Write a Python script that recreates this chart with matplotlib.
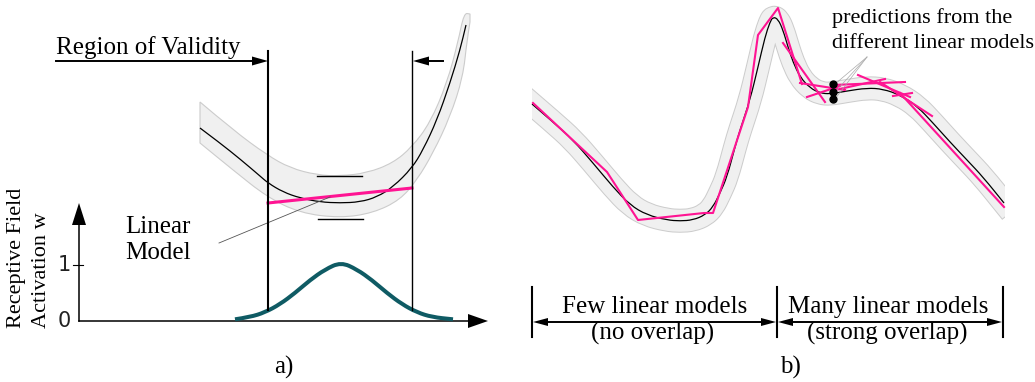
import matplotlib.pyplot as plt
from matplotlib.path import Path
from matplotlib.patches import PathPatch

# everything is laid out in pixel units of the 1035x382 picture (y grows downward)
W, H = 1035, 382
SERIF = ['Liberation Serif', 'DejaVu Serif']
PINK = '#ff1493'
TEAL = '#0f5b64'
BAND = '#f0f0f0'
BAND_EDGE = '#cccccc'

# ---- panel a) ----
curve_a_x = [200, 220, 240, 260, 268, 283, 300, 320, 340, 360, 377, 393, 412, 423, 437, 450, 460, 466]
curve_a_y = [128, 143, 159, 176, 183, 192, 198, 202, 203, 202, 197, 187, 168, 150, 120, 83, 50, 25]
band_a_upper = [(200, 102), (233, 130), (267, 155), (290, 168), (317, 175), (340, 176), (367, 173),
                (393, 163), (412, 147), (430, 123), (447, 83), (458, 42), (464, 13), (470, 14)]
band_a_lower = [(470, 22), (467, 40), (463, 77), (450, 117), (433, 153), (417, 180), (400, 200),
                (373, 213), (340, 218), (300, 213), (267, 197), (233, 170), (200, 143)]
linear_model_a = [(268, 203), (412, 188)]
validity_x = [268, 412]

# receptive field activation w
rf_x = [235, 250, 265, 280, 295, 310, 325, 341, 357, 372, 387, 402, 417, 432, 453]
rf_w = [0.03, 0.07, 0.155, 0.30, 0.50, 0.73, 0.92, 1.05, 0.92, 0.73, 0.50, 0.30, 0.155, 0.07, 0.03]
rf_ticks = [0, 1]

# ---- panel b) ----
curve_b_x = [532, 553, 573, 593, 613, 630, 647, 667, 680, 693, 705, 713, 720, 727, 735, 740, 750, 758,
             765, 770, 773, 778, 783, 788, 793, 800, 810, 820, 830, 847, 867, 883, 900, 917, 933, 950,
             967, 983, 1004]
curve_b_y = [104, 122, 140, 163, 187, 205, 215, 220, 221, 220, 215, 207, 193, 177, 147, 130, 100, 67,
             37, 22, 17, 19, 30, 47, 62, 77, 88, 93, 94, 91, 88, 89, 95, 106, 123, 142,
             160, 177, 203]
few_models = [(533, 103), (607, 172), (638, 220), (704, 213), (713, 213), (748, 107), (758, 35),
              (778, 8), (802, 84)]
many_models = [[(783, 43), (825, 102)], [(800, 83), (845, 90)], [(807, 97), (840, 86)],
               [(835, 90), (885, 79)], [(833, 85), (905, 82)], [(858, 75), (910, 97)],
               [(880, 82), (932, 116)], [(893, 96), (912, 93)], [(900, 93), (1004, 207)]]
pred_dots_y = [84, 92, 99]
pred_dots_x = 833
sections = [532, 777, 1003]

fig = plt.figure(figsize=(W / 100, H / 100), dpi=100)
ax = fig.add_axes([0, 0, 1, 1])
ax.set_xlim(0, W)
ax.set_ylim(H, 0)
ax.axis('off')


def smooth(pts):
    # quadratic bezier pieces through the midpoints, read points act as controls
    verts, codes = [pts[0]], [Path.MOVETO]
    for i in range(1, len(pts) - 1):
        mid = ((pts[i][0] + pts[i + 1][0]) / 2, (pts[i][1] + pts[i + 1][1]) / 2)
        verts += [pts[i], mid]
        codes += [Path.CURVE3, Path.CURVE3]
    verts.append(pts[-1])
    codes.append(Path.LINETO)
    return verts, codes


def curve(xs, ys, **kw):
    v, c = smooth(list(zip(xs, ys)))
    p = PathPatch(Path(v, c), fill=False, **kw)
    ax.add_patch(p)
    return p


def head(tip, d, length, half):
    tx, ty = tip
    bx, by = tx - d[0] * length, ty - d[1] * length
    px, py = -d[1], d[0]
    ax.fill([tx, bx + px * half, bx - px * half], [ty, by + py * half, by - py * half],
            color='black', lw=0, zorder=6)


# a) band, curve, linear model
vu, cu = smooth(band_a_upper)
vl, cl = smooth(band_a_lower)
cl[0] = Path.LINETO
band_path = Path(vu + vl + [vu[0]], cu + cl + [Path.CLOSEPOLY])
ax.add_patch(PathPatch(band_path, facecolor=BAND, edgecolor=BAND_EDGE, lw=0.8, zorder=1))
curve(curve_a_x, curve_a_y, edgecolor='black', lw=0.9, zorder=3)
ax.plot([p[0] for p in linear_model_a], [p[1] for p in linear_model_a], color=PINK, lw=2.2, zorder=4)
ax.plot([317, 362], [176, 176], color='black', lw=1.0, zorder=3)
ax.plot([318, 363], [219, 219], color='black', lw=1.0, zorder=3)

# validity limits
ax.plot([validity_x[0]] * 2, [51, 310], color='black', lw=1.5, zorder=5)
ax.plot([validity_x[1]] * 2, [51, 310], color='black', lw=1.0, zorder=5)
ax.plot([56, 255], [61, 61], color='black', lw=1.4)
head((validity_x[0], 61), (1, 0), 16, 4.5)
ax.plot([428, 443], [61, 61], color='black', lw=1.4)
head((validity_x[1] + 1, 61), (-1, 0), 16, 4.5)
ax.text(56, 54, 'Region of Validity', fontsize=18, family=SERIF, ha='left', va='baseline')

# leader + label for the linear model
ax.plot([219, 330], [243, 197], color='#555555', lw=0.6, zorder=4)
ax.text(125, 233, 'Linear', fontsize=18, family=SERIF, ha='left', va='baseline')
ax.text(125, 259, 'Model', fontsize=18, family=SERIF, ha='left', va='baseline')

# receptive field axes
y0, unit = 321, 56
ax.plot([79, 79], [y0, 222], color='black', lw=1.1)
head((79, 203), (0, -1), 22, 7)
ax.plot([79, 470], [y0, y0], color='black', lw=1.1)
head((488, y0), (1, 0), 20, 7)
ax.plot([73, 83], [y0 - unit, y0 - unit], color='black', lw=0.8)
for t in rf_ticks:
    ax.text(71, y0 - unit * t, str(t), fontsize=15, family='DejaVu Sans', color='#222222',
            ha='right', va='center')
curve(rf_x, [y0 - unit * w for w in rf_w], edgecolor=TEAL, lw=2.9, capstyle='butt', zorder=4)
ax.text(17, 328, 'Receptive Field', fontsize=16, family=SERIF, rotation=90, ha='center', va='bottom')
ax.text(41, 328, 'Activation w', fontsize=16, family=SERIF, rotation=90, ha='center', va='bottom')
ax.text(284, 367, 'a)', fontsize=18, family=SERIF, ha='center', va='center')

# b) band and target function
clip = plt.Rectangle((sections[0], 0), sections[2] + 2 - sections[0], H, transform=ax.transData)
for lw_px, col in [(24, BAND_EDGE), (22, BAND)]:
    p = curve(curve_b_x, curve_b_y, edgecolor=col, lw=lw_px * 0.72, capstyle='projecting',
              joinstyle='round', zorder=1)
    p.set_clip_path(clip)
curve(curve_b_x, curve_b_y, edgecolor='black', lw=0.9, zorder=3)

ax.plot([p[0] for p in few_models], [p[1] for p in few_models], color=PINK, lw=1.5, zorder=4)
for seg in many_models:
    ax.plot([p[0] for p in seg], [p[1] for p in seg], color=PINK, lw=1.5, zorder=4)

for yd in pred_dots_y:
    ax.plot([867, pred_dots_x + 2], [57, yd], color='#aaaaaa', lw=0.5, zorder=5)
ax.plot([pred_dots_x] * len(pred_dots_y), pred_dots_y, 'o', color='black', ms=5, zorder=6)
ax.text(832, 23, 'predictions from the', fontsize=16, family=SERIF, ha='left', va='baseline')
ax.text(832, 48, 'different linear models', fontsize=16, family=SERIF, ha='left', va='baseline')

# section markers below panel b
for sx in sections:
    ax.plot([sx, sx], [287, 337], color='black', lw=1.5)
for xa, xb in [(sections[0], sections[1]), (sections[1], sections[2])]:
    ax.plot([xa + 14, xb - 14], [322, 322], color='black', lw=1.4)
    head((xa + 1, 322), (-1, 0), 15, 4)
    head((xb - 1, 322), (1, 0), 15, 4)
ax.text(655, 313, 'Few linear models', fontsize=18, family=SERIF, ha='center', va='baseline')
ax.text(653, 340, '(no overlap)', fontsize=18, family=SERIF, ha='center', va='baseline')
ax.text(888, 313, 'Many linear models', fontsize=18, family=SERIF, ha='center', va='baseline')
ax.text(887, 340, '(strong overlap)', fontsize=18, family=SERIF, ha='center', va='baseline')
ax.text(790, 367, 'b)', fontsize=18, family=SERIF, ha='center', va='center')

fig.savefig('out.png', dpi=100)
